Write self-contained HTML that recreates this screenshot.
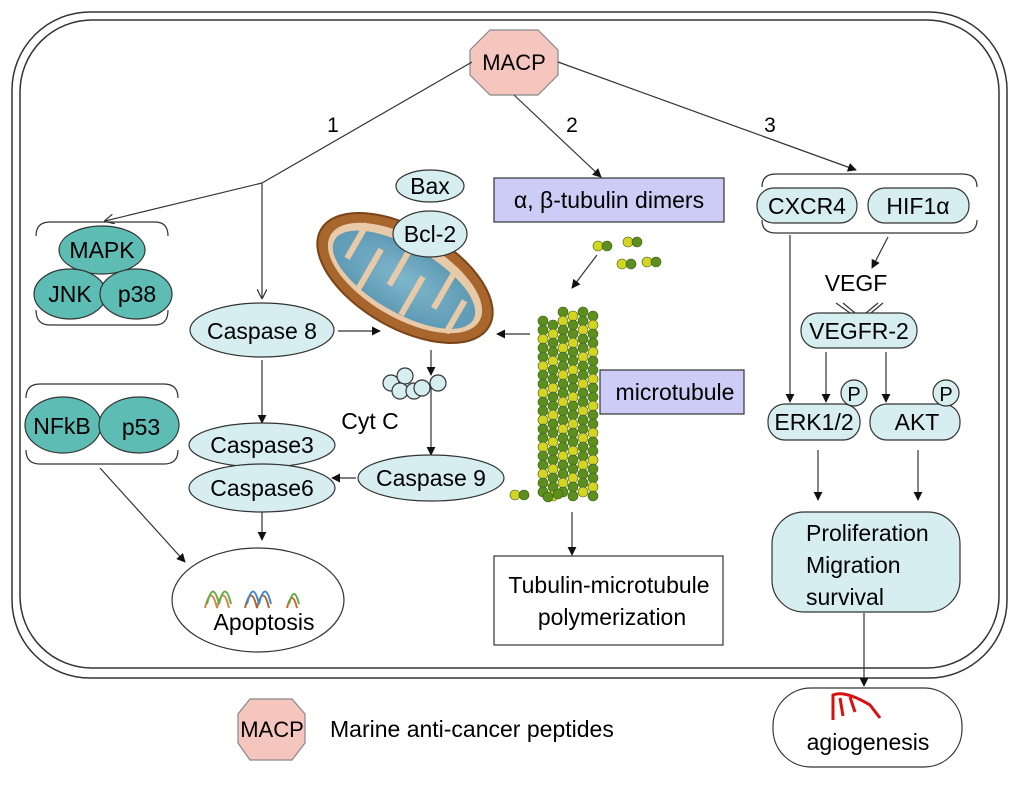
<!DOCTYPE html>
<html><head><meta charset="utf-8"><style>
html,body{margin:0;padding:0;background:#fff;}
svg{display:block;font-family:"Liberation Sans",sans-serif;}
</style></head><body>
<svg id="s" width="1024" height="786" viewBox="0 0 1024 786" xmlns="http://www.w3.org/2000/svg">
<defs>
<marker id="a" viewBox="0 0 10 10" refX="9" refY="5" markerWidth="9" markerHeight="9" orient="auto-start-reverse" markerUnits="userSpaceOnUse"><path d="M0,0 L10,5 L0,10 z" fill="#111"/></marker>
<marker id="v" viewBox="0 0 10 10" refX="9" refY="5" markerWidth="10" markerHeight="10" orient="auto" markerUnits="userSpaceOnUse"><path d="M0,0 L10,5 L0,10" fill="none" stroke="#333" stroke-width="1.2"/></marker>
<radialGradient id="mg" cx="0.5" cy="0.5" r="0.5"><stop offset="0" stop-color="#7fb6cc"/><stop offset="1" stop-color="#5f9bb5"/></radialGradient>
</defs>
<g fill="none" stroke="#333" stroke-width="1.5">
<rect x="12" y="12" width="995" height="666" rx="78"/>
<rect x="20" y="20" width="979" height="648" rx="72"/>
</g>
<polygon points="490,30 538,30 558,50 558,75 538,95 490,95 470,75 470,50" fill="#f5c6be" stroke="#888" stroke-width="1.2"/>
<text x="514" y="70" font-size="22" text-anchor="middle">MACP</text>
<g stroke="#333" stroke-width="1.2" fill="none">
<line x1="472" y1="62" x2="262" y2="183"/>
<line x1="262" y1="183" x2="105" y2="221" marker-end="url(#v)"/>
<line x1="262" y1="183" x2="262" y2="298" marker-end="url(#v)"/>
<line x1="514" y1="95" x2="601" y2="177" marker-end="url(#a)"/>
<line x1="558" y1="62" x2="856" y2="170" marker-end="url(#a)"/>
<line x1="338" y1="331" x2="380" y2="331" marker-end="url(#a)"/>
<line x1="530" y1="334" x2="497" y2="334" marker-end="url(#a)"/>
<line x1="431" y1="350" x2="431" y2="375" marker-end="url(#a)"/>
<line x1="431" y1="385" x2="431" y2="455" marker-end="url(#a)"/>
<line x1="356" y1="478" x2="332" y2="478" marker-end="url(#a)"/>
<line x1="262" y1="360" x2="262" y2="423" marker-end="url(#a)"/>
<line x1="262" y1="512" x2="262" y2="540" marker-end="url(#a)"/>
<line x1="100" y1="468" x2="185" y2="562" marker-end="url(#a)"/>
<line x1="597" y1="255" x2="572" y2="288" marker-end="url(#a)"/>
<line x1="572" y1="512" x2="572" y2="555" marker-end="url(#a)"/>
<line x1="790" y1="235" x2="790" y2="402" marker-end="url(#a)"/>
<line x1="888" y1="237" x2="872" y2="268" marker-end="url(#a)"/>
<line x1="826" y1="352" x2="826" y2="402" marker-end="url(#a)"/>
<line x1="886" y1="352" x2="886" y2="402" marker-end="url(#a)"/>
<line x1="818" y1="450" x2="818" y2="500" marker-end="url(#a)"/>
<line x1="918" y1="450" x2="918" y2="500" marker-end="url(#a)"/>
<line x1="864" y1="613" x2="864" y2="686" marker-end="url(#a)"/>
<line x1="836" y1="303" x2="850" y2="313"/><line x1="843" y1="303" x2="855" y2="313"/>
<line x1="878" y1="303" x2="866" y2="313"/><line x1="883" y1="303" x2="871" y2="313"/>
</g>
<g font-size="21" text-anchor="middle"><text x="333" y="132">1</text><text x="572" y="132">2</text><text x="770" y="132">3</text></g>
<g fill="none" stroke="#333" stroke-width="1.2">
<path d="M36,236 Q36,222 50,222 L155,222 Q168,222 168,236"/>
<path d="M36,310 Q36,325 50,325 L155,325 Q168,325 168,310"/>
<path d="M26,398 Q26,384 40,384 L164,384 Q178,384 178,398"/>
<path d="M26,450 Q26,464 40,464 L164,464 Q178,464 178,450"/>
<path d="M762,187 Q762,174 776,174 L962,174 Q977,174 977,187"/>
<path d="M762,220 Q762,233 776,233 L962,233 Q977,233 977,220"/>
</g>
<g fill="#5dbcb3" stroke="#333" stroke-width="1.2">
<ellipse cx="102" cy="250" rx="43" ry="24"/>
<ellipse cx="70" cy="294" rx="36" ry="25"/>
<ellipse cx="136" cy="294" rx="36" ry="25"/>
<ellipse cx="63" cy="425" rx="38" ry="28"/>
<ellipse cx="139" cy="425" rx="40" ry="28"/>
</g>
<g font-size="23" text-anchor="middle">
<text x="102" y="258">MAPK</text><text x="70" y="302">JNK</text><text x="137" y="302">p38</text>
<text x="62" y="434">NFkB</text><text x="141" y="435">p53</text>
</g>
<g transform="rotate(30 405 278)">
<ellipse cx="405" cy="278" rx="97" ry="50" fill="#a8652c" stroke="#7a4418" stroke-width="2"/>
<ellipse cx="405" cy="278" rx="86" ry="40" fill="#e8c9a8"/>
<ellipse cx="405" cy="280" rx="80" ry="33" fill="url(#mg)"/>
<g stroke="#e8c9a8" stroke-width="6" fill="none">
<path d="M345,250 L345,290"/><path d="M370,310 L370,265"/><path d="M395,248 L395,292"/><path d="M420,312 L420,268"/><path d="M445,248 L445,290"/><path d="M468,305 L468,268"/>
</g></g>
<g fill="#d6eef0" stroke="#333" stroke-width="1.2">
<ellipse cx="430" cy="186" rx="34" ry="16"/>
<ellipse cx="430" cy="234" rx="37" ry="23"/>
<ellipse cx="262" cy="330" rx="72" ry="27"/>
<ellipse cx="262" cy="445" rx="73" ry="22"/>
<ellipse cx="262" cy="488" rx="73" ry="24"/>
<ellipse cx="431" cy="478" rx="73" ry="23"/>
<circle cx="391" cy="383" r="8"/><circle cx="405" cy="376" r="8"/><circle cx="400" cy="391" r="8"/><circle cx="414" cy="391" r="8"/><circle cx="422" cy="388" r="8"/><circle cx="438" cy="383" r="8"/>
</g>
<g font-size="23" text-anchor="middle">
<text x="430" y="194">Bax</text><text x="430" y="242">Bcl-2</text>
<text x="262" y="339">Caspase 8</text><text x="262" y="453">Caspase3</text><text x="262" y="496">Caspase6</text>
<text x="431" y="486">Caspase 9</text><text x="370" y="429">Cyt C</text>
</g>
<ellipse cx="258" cy="600" rx="86" ry="52" fill="#fff" stroke="#333" stroke-width="1.2"/>
<g fill="none" stroke-width="2">
<path d="M205,608 q6,-25 12,0 q6,-25 12,0" stroke="#c84"/><path d="M207,604 q6,-25 12,0 q6,-25 12,0" stroke="#6a4"/>
<path d="M245,608 q6,-25 12,0 q6,-25 12,0" stroke="#a63"/><path d="M247,604 q6,-25 12,0 q6,-25 12,0" stroke="#48c"/>
<path d="M287,608 q5,-20 10,0" stroke="#c63"/><path d="M289,604 q5,-20 10,0" stroke="#6a4"/>
</g>
<text x="264" y="630" font-size="23" text-anchor="middle">Apoptosis</text>
<rect x="494" y="178" width="230" height="44" fill="#ccccf7" stroke="#333" stroke-width="1.2"/>
<text x="609" y="208" font-size="23" text-anchor="middle">α, β-tubulin dimers</text>
<rect x="600" y="370" width="144" height="44" fill="#ccccf7" stroke="#333" stroke-width="1.2"/>
<text x="675" y="400" font-size="23" text-anchor="middle">microtubule</text>
<g id="mt"></g>
<rect x="494" y="556" width="229" height="89" fill="#fff" stroke="#333" stroke-width="1.2"/>
<text x="609" y="593" font-size="23" text-anchor="middle">Tubulin-microtubule</text>
<text x="612" y="625" font-size="23" text-anchor="middle">polymerization</text>
<g fill="#d6eef0" stroke="#333" stroke-width="1.2">
<rect x="757" y="188" width="100" height="35" rx="17"/>
<rect x="868" y="188" width="101" height="35" rx="17"/>
<rect x="801" y="313" width="116" height="35" rx="17"/>
<rect x="768" y="404" width="92" height="36" rx="17"/>
<rect x="870" y="404" width="90" height="36" rx="17"/>
<circle cx="854" cy="393" r="13"/><circle cx="946" cy="393" r="13"/>
<rect x="772" y="512" width="188" height="100" rx="32"/>
</g>
<g font-size="23" text-anchor="middle">
<text x="807" y="214">CXCR4</text><text x="918" y="214">HIF1α</text>
<text x="856" y="291">VEGF</text><text x="859" y="339">VEGFR-2</text>
<text x="814" y="430">ERK1/2</text><text x="917" y="430">AKT</text>
<text x="854" y="401" font-size="20">P</text><text x="946" y="401" font-size="20">P</text>
</g>
<g font-size="23"><text x="806" y="541">Proliferation</text><text x="806" y="573">Migration</text><text x="806" y="605">survival</text></g>
<rect x="773" y="688" width="189" height="79" rx="38" fill="#fff" stroke="#333" stroke-width="1.2"/>
<g fill="none" stroke="#d81010" stroke-width="3"><path d="M833,720 L833,695 Q845,690 870,705 L880,718"/><path d="M840,698 L843,716"/><path d="M850,697 L855,712"/></g>
<text x="868" y="750" font-size="23" text-anchor="middle">agiogenesis</text>
<polygon points="250,699 292,699 305,714 305,743 292,760 250,760 238,743 238,714" fill="#f5c6be" stroke="#888" stroke-width="1.2"/>
<text x="272" y="737" font-size="22" text-anchor="middle">MACP</text>
<text x="330" y="737" font-size="23">Marine anti-cancer peptides</text>
</svg>
<script>
var g=document.getElementById('mt'),h='';
function c(x,y,f){h+='<circle cx="'+x+'" cy="'+y+'" r="5" fill="'+f+'" stroke="#3a5a10" stroke-width="0.6"/>';}
for(var r=0;r<21;r++){for(var i=0;i<6;i++){var x=543+i*10,y=312+r*9+(i%2)*4;if(r==0&&i<2)continue;c(x,y,((r+i)%3==0)?'#d4d422':'#5c8f1e');}}
c(598,246,'#d4d422');c(607,246,'#5c8f1e');c(628,242,'#d4d422');c(637,242,'#5c8f1e');c(622,264,'#d4d422');c(631,264,'#5c8f1e');c(647,262,'#d4d422');c(656,262,'#5c8f1e');
c(515,495,'#d4d422');c(524,495,'#5c8f1e');c(548,497,'#5c8f1e');c(558,494,'#5c8f1e');
g.innerHTML=h;
</script>
</body></html>
